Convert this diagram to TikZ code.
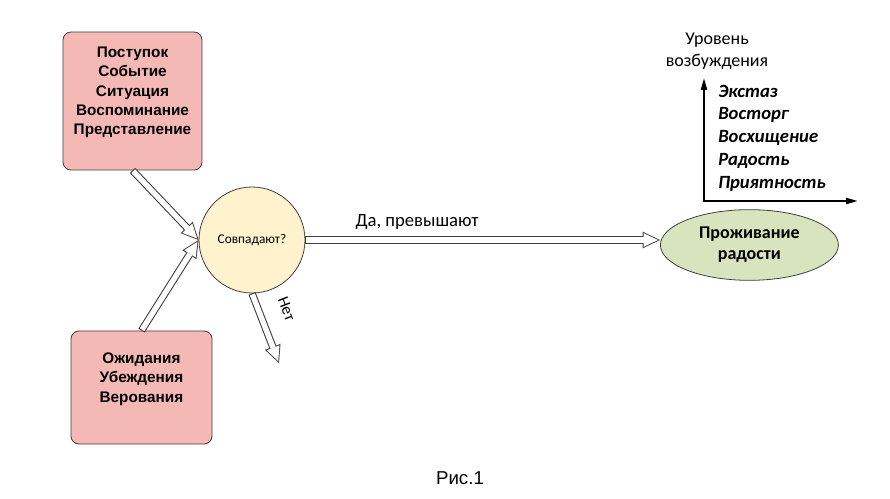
\documentclass[tikz,border=0pt]{standalone}
\usepackage{fontspec}
\setmainfont{Liberation Sans}
\newfontfamily\calfont{Carlito}
\usepackage{tikz}
\usetikzlibrary{positioning,arrows.meta,shapes.geometric}

\definecolor{boxpink}{HTML}{F4B9B5}
\definecolor{askyellow}{HTML}{FFF2CC}
\definecolor{joygreen}{HTML}{D7E4BD}
\definecolor{edgegray}{HTML}{404040}

\begin{document}
\begin{tikzpicture}[
x=0.75pt,
y=-0.75pt,
node distance=20pt,
block/.style={
draw=edgegray,
line width=0.6pt,
rounded corners=6pt,
fill=boxpink,
align=center,
text depth=15pt,
font=\fontsize{11.5}{14.5}\selectfont\bfseries
},
ask/.style={
circle,
draw=edgegray,
line width=0.6pt,
fill=askyellow,
minimum size=79.5pt,
inner sep=0pt,
font=\calfont\fontsize{10}{12}\selectfont
},
result/.style={
ellipse,
draw=edgegray,
line width=0.6pt,
fill=joygreen,
minimum width=133.5pt,
minimum height=53pt,
inner sep=0pt,
align=center,
font=\calfont\bfseries\fontsize{13.5}{15.75}\selectfont
},
hollow/.style={
draw=edgegray,
line width=5.6pt,
-{Triangle[length=13pt,width=12.5pt,line width=0pt]},
postaction={
draw=white,
line width=4pt,
-{Triangle[length=10.6pt,width=10.2pt,line width=0pt]},
shorten >=1.6pt,
shorten <=0.8pt
}
},
axis/.style={
draw=black,
line width=1.6pt,
{Triangle[length=9pt,width=4.5pt]}-{Triangle[length=9pt,width=4.5pt]}
}
]

\useasboundingbox (0,0) rectangle (890,499);

%%%%%%%%%%%%%%%%%%%%%%%%%%%%%%%%%%%%%%%%%%%%%
% Main Nodes
%%%%%%%%%%%%%%%%%%%%%%%%%%%%%%%%%%%%%%%%%%%%%

\node[ask] (match) at (252,240)
{Совпадают?};

\node[block, minimum width=104.25pt, minimum height=103.5pt] (event) at (132.5,101)
{Поступок\\
Событие\\
Ситуация\\
Воспоминание\\
Представление};

\node[block, minimum width=105.75pt, minimum height=84.75pt] (expect) at (141.5,387.5)
{Ожидания\\
Убеждения\\
Верования};

\node[result, anchor=west] (joy) at (660,245)
{Проживание\\
радости};

%%%%%%%%%%%%%%%%%%%%%%%%%%%%%%%%%%%%%%%%%%%%%
% Arousal Axis
%%%%%%%%%%%%%%%%%%%%%%%%%%%%%%%%%%%%%%%%%%%%%

\coordinate (origin) at (704,201);
\coordinate (ytop) at (704,78);
\coordinate (xend) at (858,201);

\draw[axis] (ytop)--(origin)--(xend);

\node[align=center, font=\calfont\fontsize{13.5}{16.5}\selectfont] (axislabel) at (717,51)
{Уровень\\
возбуждения};

\node[anchor=west, align=left, inner sep=0pt, font=\calfont\bfseries\itshape\fontsize{14}{17.1}\selectfont] (levels) at (718,138)
{Экстаз\\
Восторг\\
Восхищение\\
Радость\\
Приятность};

%%%%%%%%%%%%%%%%%%%%%%%%%%%%%%%%%%%%%%%%%%%%%
% Connections
%%%%%%%%%%%%%%%%%%%%%%%%%%%%%%%%%%%%%%%%%%%%%

\coordinate (noend) at (279,363);

\draw[hollow] (event.south)--(match.west);

\draw[hollow] (expect.north)--(match.west);

\draw[hollow] (match.east)--(match.east -| joy.west)
node[pos=0.315, above=2pt, font=\calfont\fontsize{14}{16}\selectfont] (yes) {Да, превышают};

\draw[hollow] (match.south)--(noend)
node[pos=0.36, sloped, above=10pt, font=\calfont\fontsize{12}{14}\selectfont] (no) {Нет};

\node[font=\fontsize{14}{16}\selectfont] (caption) at (460,478) {Рис.1};

\end{tikzpicture}
\end{document}
